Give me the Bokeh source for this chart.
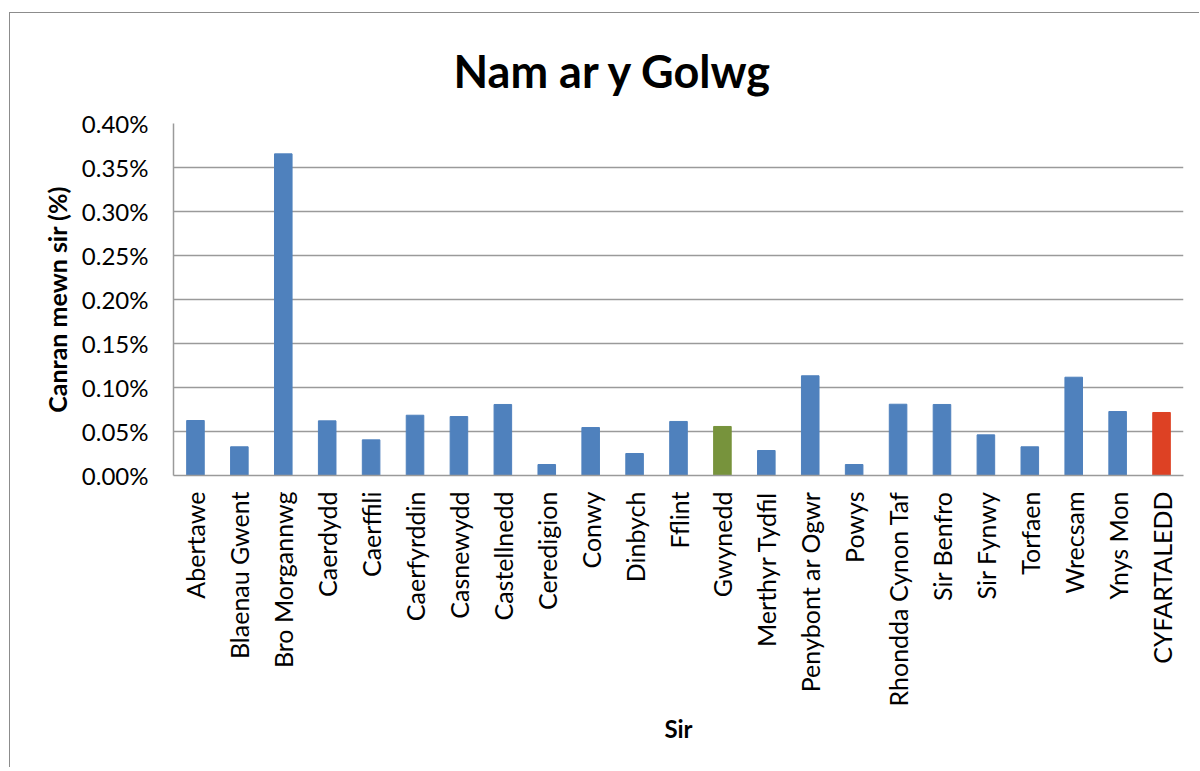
import math
from bokeh.plotting import figure
from bokeh.models import ColumnDataSource, FactorRange, PrintfTickFormatter, FixedTicker
from bokeh.embed import file_html
from bokeh.resources import INLINE

categories = ["Abertawe", "Blaenau Gwent", "Bro Morgannwg", "Caerdydd", "Caerffili",
              "Caerfyrddin", "Casnewydd", "Castellnedd", "Ceredigion", "Conwy",
              "Dinbych", "Fflint", "Gwynedd", "Merthyr Tydfil", "Penybont ar Ogwr",
              "Powys", "Rhondda Cynon Taf", "Sir Benfro", "Sir Fynwy", "Torfaen",
              "Wrecsam", "Ynys Mon", "CYFARTALEDD"]
values = [0.0625, 0.0326, 0.3655, 0.0621, 0.0405,
          0.0685, 0.0670, 0.0807, 0.0125, 0.0545,
          0.0250, 0.0614, 0.0557, 0.0284, 0.1133,
          0.0125, 0.0810, 0.0807, 0.0462, 0.0326,
          0.1117, 0.0727, 0.0716]
y_ticks = [0.0, 0.05, 0.10, 0.15, 0.20, 0.25, 0.30, 0.35, 0.40]

BLUE = "#4F81BD"
GREEN = "#77933C"
RED = "#DD4124"
colors = [GREEN if c == "Gwynedd" else RED if c == "CYFARTALEDD" else BLUE for c in categories]

source = ColumnDataSource(dict(cat=categories, val=values, color=colors))

FONT = "Lato"
GRID = "#9a9a9a"

p = figure(x_range=FactorRange(*categories, range_padding=0), y_range=(0, 0.40),
           width=1190, height=755, output_backend="svg", toolbar_location=None,
           min_border_left=163, min_border_right=17, min_border_top=110, min_border_bottom=293,
           title="Nam ar y Golwg",
           styles={"border-top": "1px solid #8c8c8c", "border-left": "1px solid #8c8c8c",
                   "margin-top": "12px", "margin-left": "9px"})

p.vbar(x="cat", top="val", width=0.4, source=source, fill_color="color", line_color="color")

p.title.text_font = FONT
p.title.text_font_style = "bold"
p.title.text_font_size = "45px"
p.title.align = "left"
p.title.offset = 280
p.title.standoff = 51
p.title.text_color = "black"

p.outline_line_color = None
p.xgrid.grid_line_color = None
p.ygrid.grid_line_color = GRID
p.ygrid.grid_line_width = 1.5

p.yaxis.ticker = FixedTicker(ticks=y_ticks)
p.yaxis.formatter = PrintfTickFormatter(format="%.2f%%")
p.yaxis.axis_label = "Canran mewn sir (%)"
p.xaxis.axis_label = "Sir"

for ax in (p.xaxis[0], p.yaxis[0]):
    ax.axis_line_color = GRID
    ax.axis_line_width = 1.5
    ax.major_tick_line_color = None
    ax.minor_tick_line_color = None
    ax.major_label_text_font = FONT
    ax.major_label_text_font_size = "24px"
    ax.major_label_text_color = "black"
    ax.axis_label_text_font = FONT
    ax.axis_label_text_font_style = "bold"
    ax.axis_label_text_font_size = "24px"
    ax.axis_label_text_color = "black"

p.xaxis.major_label_orientation = math.pi / 2
p.xaxis.major_label_text_font_size = "25px"
p.xaxis.major_label_standoff = 10
p.xaxis.axis_label_standoff = 5
p.yaxis.major_label_standoff = 19
p.yaxis.axis_label_standoff = 7
p.yaxis.axis_label_text_font_size = "25px"

open("out.html", "w").write(file_html(p, INLINE))
